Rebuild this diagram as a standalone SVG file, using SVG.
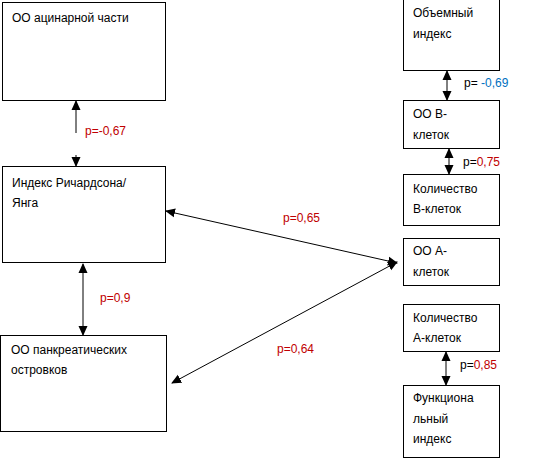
<svg xmlns="http://www.w3.org/2000/svg" width="555" height="460" viewBox="0 0 555 460">
<style>
.box{fill:#fff;stroke:#000;stroke-width:1}
.t{font-family:"Liberation Sans",Arial,sans-serif;font-size:12px;fill:#000}
.r{fill:#C00000}
.b{fill:#0070C0}
.c{stroke:#000;stroke-width:1;fill:none;marker-start:url(#ah);marker-end:url(#ah)}
</style>
<defs>
<marker id="ah" viewBox="0 0 10 10" refX="9" refY="5" markerWidth="10" markerHeight="10" markerUnits="userSpaceOnUse" orient="auto-start-reverse">
<path d="M0,0.5 L10,5 L0,9.5 Z" fill="#000"/>
</marker>
</defs>
<g id="n1"><rect class="box" x="2.5" y="2.5" width="163" height="98"/><text class="t" x="12" y="22">ОО ацинарной части</text></g>
<g id="n2"><rect class="box" x="2.5" y="166.5" width="163" height="96"/><text class="t" x="12" y="187">Индекс Ричардсона/</text><text class="t" x="12" y="207">Янга</text></g>
<g id="n3"><rect class="box" x="0.5" y="335.5" width="166" height="96"/><text class="t" x="11" y="354">ОО панкреатических</text><text class="t" x="11" y="374">островков</text></g>
<g id="n4"><rect class="box" x="403.5" y="-1" width="96" height="71.5"/><text class="t" x="413" y="17">Объемный</text><text class="t" x="413" y="38">индекс</text></g>
<g id="n5"><rect class="box" x="403.5" y="100.5" width="96" height="48"/><text class="t" x="413" y="118">ОО В-</text><text class="t" x="413" y="139">клеток</text></g>
<g id="n6"><rect class="box" x="403.5" y="174.5" width="96" height="51"/><text class="t" x="413" y="193">Количество</text><text class="t" x="413" y="213">В-клеток</text></g>
<g id="n7"><rect class="box" x="403.5" y="238.5" width="96" height="47"/><text class="t" x="413" y="255">ОО А-</text><text class="t" x="413" y="276">клеток</text></g>
<g id="n8"><rect class="box" x="403.5" y="304.5" width="96" height="47"/><text class="t" x="413" y="322">Количество</text><text class="t" x="413" y="342">А-клеток</text></g>
<g id="n9"><rect class="box" x="403.5" y="385.5" width="96" height="72"/><text class="t" x="413" y="402">Функциона</text><text class="t" x="413" y="423">льный</text><text class="t" x="413" y="443">индекс</text></g>
<g id="connectors">
<line x1="76" y1="133" x2="76" y2="101" stroke="#000" marker-end="url(#ah)"/>
<line x1="76" y1="155" x2="76" y2="166" stroke="#000" marker-end="url(#ah)"/>
<line class="c" x1="83" y1="264" x2="83" y2="335"/>
<line class="c" x1="166" y1="211" x2="397" y2="263"/>
<line class="c" x1="397" y1="262" x2="172" y2="383"/>
<line class="c" x1="447" y1="71" x2="447" y2="100"/>
<line class="c" x1="449" y1="149" x2="449" y2="174"/>
<line class="c" x1="446" y1="352" x2="446" y2="385"/>
</g>
<g id="labels">
<text class="t r" x="85" y="135">p=-0,67</text>
<text class="t r" x="100" y="302">p=0,9</text>
<text class="t r" x="283" y="222">p=0,65</text>
<text class="t r" x="277" y="353">p=0,64</text>
<text class="t" x="464" y="87">p= <tspan class="b">-0,69</tspan></text>
<text class="t" x="463" y="166">p=<tspan class="r">0,75</tspan></text>
<text class="t" x="460" y="369">p=<tspan class="r">0,85</tspan></text>
</g>
</svg>
